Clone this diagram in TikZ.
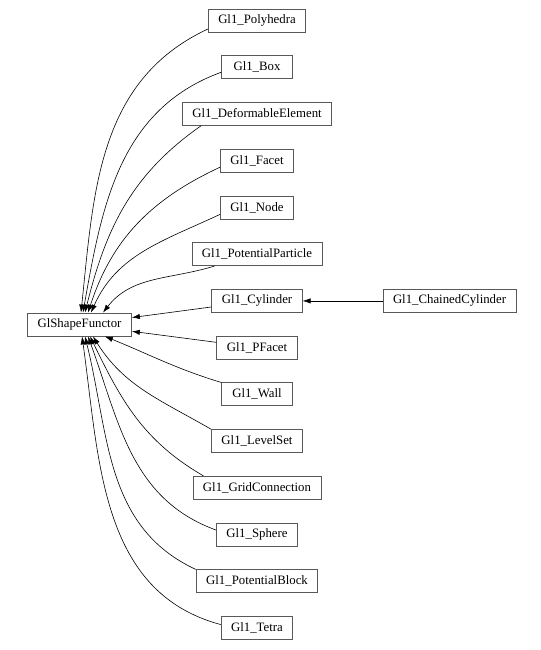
\documentclass[tikz,border=0pt]{standalone}
\usepackage{fontspec}
\setmainfont{Liberation Serif}
\usetikzlibrary{arrows.meta, positioning}

\begin{document}
\begin{tikzpicture}[x=0.75pt, y=0.75pt, node distance=17.2pt, auto,
    cls/.style={rectangle, draw=black!65, line width=0.6pt, minimum width=53pt, minimum height=17.25pt, inner xsep=7.5pt, inner ysep=1pt, font=\fontsize{9.6}{11}\selectfont},
    line/.style={draw, line width=0.45pt, -{Latex[length=6pt, width=4pt]}}]
    \useasboundingbox (0,0) rectangle (541,-650);
    \node [cls] (base) at (79.5,-324.5) {GlShapeFunctor};
    \node [cls] (poly) at (257,-20.5) {Gl1\_Polyhedra};
    \node [cls, below=of poly] (boxc) {Gl1\_Box};
    \node [cls, below=of boxc] (deform) {Gl1\_DeformableElement};
    \node [cls, below=of deform] (facet) {Gl1\_Facet};
    \node [cls, below=of facet] (gnode) {Gl1\_Node};
    \node [cls, below=of gnode] (ppart) {Gl1\_PotentialParticle};
    \node [cls, below=of ppart] (cyl) {Gl1\_Cylinder};
    \node [cls, right=60pt of cyl] (chained) {Gl1\_ChainedCylinder};
    \node [cls, below=of cyl] (pfacet) {Gl1\_PFacet};
    \node [cls, below=of pfacet] (wall) {Gl1\_Wall};
    \node [cls, below=of wall] (lset) {Gl1\_LevelSet};
    \node [cls, below=of lset] (grid) {Gl1\_GridConnection};
    \node [cls, below=of grid] (sphere) {Gl1\_Sphere};
    \node [cls, below=of sphere] (pblock) {Gl1\_PotentialBlock};
    \node [cls, below=of pblock] (tetra) {Gl1\_Tetra};
    % classes above the base
    \path [line] ([yshift=-6.4pt]poly.west) to[out=205, in=84] ([xshift=1.1pt]base.north);
    \path [line] ([yshift=-3.75pt]boxc.west) to[out=200, in=80] ([xshift=2.6pt]base.north);
    \path [line] ([xshift=14.25pt]deform.south west) to[out=215, in=76] ([xshift=4.1pt]base.north);
    \path [line] ([yshift=-4.9pt]facet.west) to[out=205, in=72] ([xshift=6.4pt]base.north);
    \path [line] ([yshift=-5.25pt]gnode.west) to[out=205, in=66] ([xshift=8.6pt]base.north);
    \path [line] ([xshift=17.25pt]ppart.south west) to[out=197, in=52] ([xshift=17.6pt]base.north);
    \path [line] (cyl) -- (base);
    \path [line] (chained) -- (cyl);
    \path [line] (pfacet) -- (base);
    % classes below the base
    \path [line] (wall.north west) to[out=163, in=-22] ([xshift=19pt]base.south);
    \path [line] (lset.north west) to[out=150, in=-58] ([xshift=10.1pt]base.south);
    \path [line] ([xshift=8.25pt]grid.north west) to[out=150, in=-64] ([xshift=7.9pt]base.south);
    \path [line] ([yshift=3.4pt]sphere.west) to[out=160, in=-70] ([xshift=6.4pt]base.south);
    \path [line] (pblock.north west) to[out=155, in=-76] ([xshift=4.1pt]base.south);
    \path [line] ([yshift=2.6pt]tetra.west) to[out=165, in=-82] ([xshift=1.9pt]base.south);
\end{tikzpicture}
\end{document}
